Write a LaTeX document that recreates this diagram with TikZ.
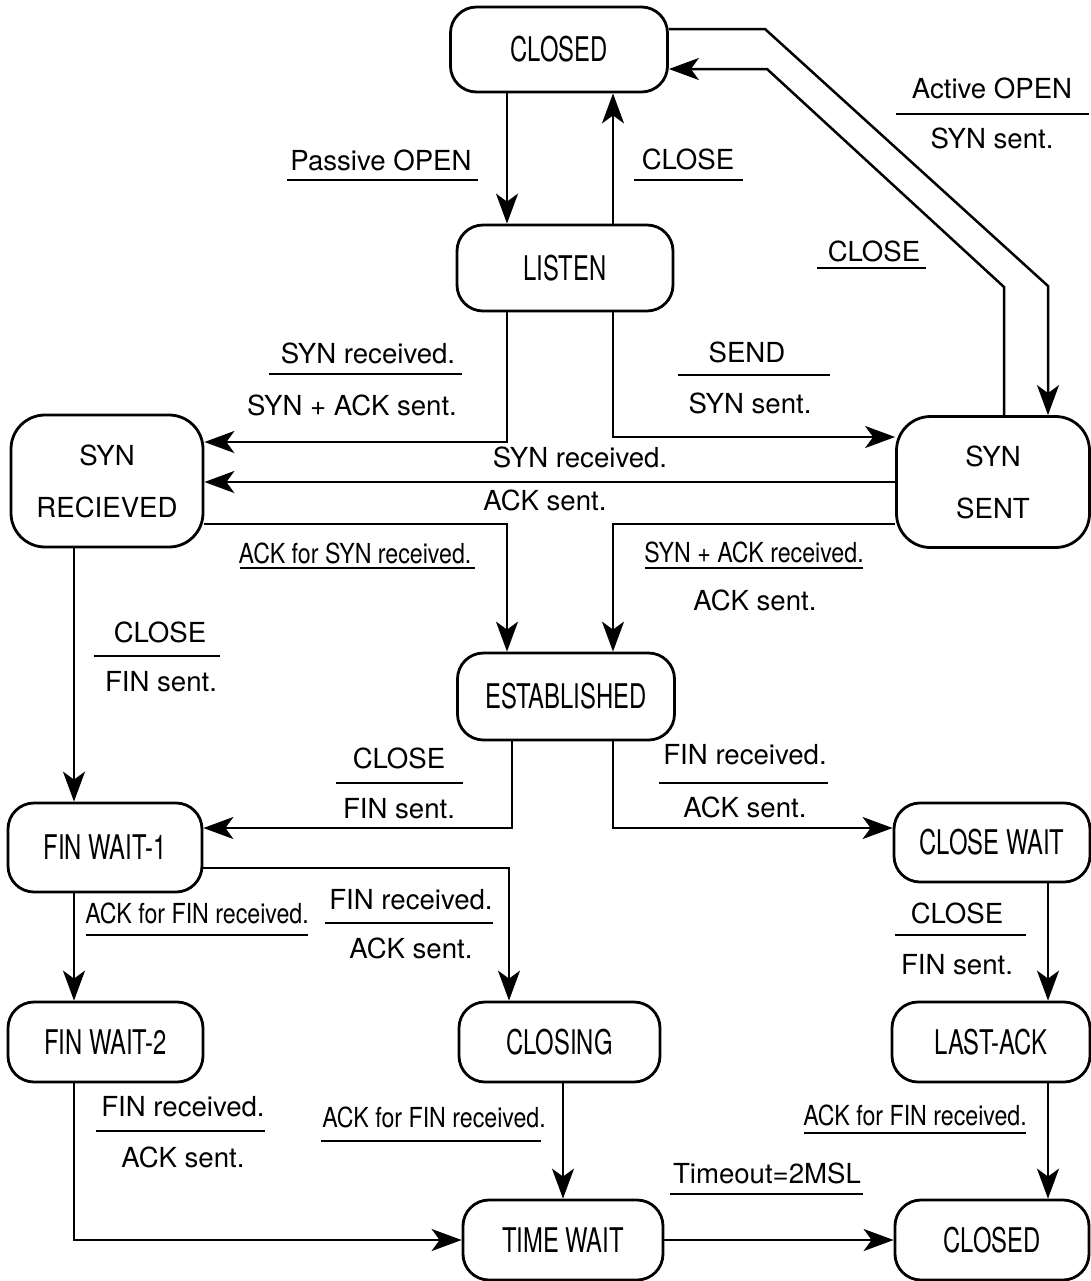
\documentclass[tikz,border=0pt]{standalone}
\usepackage{fontspec}
\setmainfont{TeX Gyre Heros}
\newfontfamily\boxfont[FakeStretch=0.7]{TeX Gyre Heros}
\newfontfamily\condfont[FakeStretch=0.84]{TeX Gyre Heros}
\usetikzlibrary{arrows.meta}
\begin{document}
\begin{tikzpicture}[x=0.5pt,y=-0.5pt,
  state/.style={draw, line width=1.4pt, rounded corners=13pt, inner sep=0pt, font=\boxfont\fontsize{17}{20}\selectfont},
  sstate/.style={state, rounded corners=17pt, align=center, font=\fontsize{13.8}{26}\selectfont},
  lbl/.style={inner sep=0pt, font=\fontsize{13.8}{16}\selectfont},
  clbl/.style={inner sep=0pt, font=\condfont\fontsize{13.8}{16}\selectfont},
  bar/.style={line width=0.7pt},
  tr/.style={line width=1.25pt, -{Stealth[length=15pt,width=11pt,inset=4pt]}},
]
\useasboundingbox (0,0) rectangle (1091,1281);
% states
\node[state, minimum width=108.5pt, minimum height=42.5pt] (C1) at (559,49.5) {CLOSED};
\node[state, minimum width=108pt, minimum height=43pt] (LI) at (565,268) {LISTEN};
\node[sstate, minimum width=96pt, minimum height=66pt] (SR) at (107,481) {SYN\\RECIEVED};
\node[sstate, minimum width=96.5pt, minimum height=65.5pt] (SS) at (993,482) {SYN\\SENT};
\node[state, minimum width=108.5pt, minimum height=43.5pt] (ES) at (566,696.5) {ESTABLISHED};
\node[state, minimum width=97pt, minimum height=44.5pt] (F1) at (105,847.5) {FIN WAIT-1};
\node[state, minimum width=98pt, minimum height=39.5pt] (CW) at (992,842.5) {CLOSE WAIT};
\node[state, minimum width=97.5pt, minimum height=40pt] (F2) at (105.5,1042) {FIN WAIT-2};
\node[state, minimum width=100.5pt, minimum height=40pt] (CG) at (559.5,1042) {CLOSING};
\node[state, minimum width=99pt, minimum height=40pt] (LA) at (991,1042) {LAST-ACK};
\node[state, minimum width=100pt, minimum height=40pt] (TW) at (563,1240) {TIME WAIT};
\node[state, minimum width=97pt, minimum height=40pt] (C2) at (992,1240) {CLOSED};
% columns and rows
\coordinate (xa) at (507,0);
\coordinate (xb) at (613,0);
\coordinate (xe) at (512,0);
\coordinate (xf) at (509,0);
\coordinate (xl) at (74,0);
\coordinate (xr) at (1048,0);
\coordinate (xi) at (1004,0);
\coordinate (xc) at (563,0);
\coordinate (ya) at (0,29);
\coordinate (yb) at (0,69);
\coordinate (yc) at (0,442);
\coordinate (yd) at (0,437);
\coordinate (ye) at (0,482);
\coordinate (yf) at (0,524);
\coordinate (yg) at (0,828);
\coordinate (yh) at (0,868);
% transitions
\draw[tr] (C1.south -| xa) -- (LI.north -| xa);
\draw[tr] (LI.north -| xb) -- (C1.south -| xb);
\draw[tr] (C1.east |- ya) -- (765,29) -- (1048,286) -- (SS.north -| xr);
\draw[tr] (SS.north -| xi) -- (1004,287) -- (767,69) -- (C1.east |- yb);
\draw[tr] (LI.south -| xa) |- (SR.east |- yc);
\draw[tr] (LI.south -| xb) |- (SS.west |- yd);
\draw[tr] (SS.west |- ye) -- (SR.east |- ye);
\draw[tr] (SR.east |- yf) -| (ES.north -| xa);
\draw[tr] (SS.west |- yf) -| (ES.north -| xb);
\draw[tr] (SR.south -| xl) -- (F1.north -| xl);
\draw[tr] (ES.south -| xe) |- (F1.east |- yg);
\draw[tr] (ES.south -| xb) |- (CW.west |- yg);
\draw[tr] (F1.south -| xl) -- (F2.north -| xl);
\draw[tr] (F1.east |- yh) -| (CG.north -| xf);
\draw[tr] (CW.south -| xr) -- (LA.north -| xr);
\draw[tr] (F2.south -| xl) |- (TW.west);
\draw[tr] (CG.south -| xc) -- (TW.north -| xc);
\draw[tr] (LA.south -| xr) -- (C2.north -| xr);
\draw[tr] (TW.east) -- (C2.west);
% labels
\node[lbl] (t1) at (381,160) {Passive OPEN};
\draw[bar] (287,180) -- (478,180);
\node[lbl] (t2) at (688,159) {CLOSE};
\draw[bar] (634,180) -- (743,180);
\node[lbl] (t3) at (992,88) {Active OPEN};
\draw[bar] (896,114) -- (1089,114);
\node[lbl] (t4) at (992,138) {SYN sent.};
\node[lbl] (t5) at (874,251) {CLOSE};
\draw[bar] (817,268) -- (926,268);
\node[lbl] (t6) at (368,353) {SYN received.};
\draw[bar] (269,374) -- (462,374);
\node[lbl] (t7) at (352,405) {SYN + ACK sent.};
\node[lbl] (t8) at (747,352) {SEND};
\draw[bar] (678,375) -- (830,375);
\node[lbl] (t9) at (750,403) {SYN sent.};
\node[lbl] (t10) at (580,457) {SYN received.};
\node[lbl] (t11) at (545,500) {ACK sent.};
\node[clbl] (t12) at (355,553) {ACK for SYN received.};
\draw[bar] (240,568) -- (475,568);
\node[clbl] (t13) at (754,552) {SYN + ACK received.};
\draw[bar] (645,568) -- (863,568);
\node[lbl] (t14) at (755,600) {ACK sent.};
\node[lbl] (t15) at (160,632) {CLOSE};
\draw[bar] (94,656) -- (220,656);
\node[lbl] (t16) at (161,682) {FIN sent.};
\node[lbl] (t17) at (399,758) {CLOSE};
\draw[bar] (336,783) -- (463,783);
\node[lbl] (t18) at (399,809) {FIN sent.};
\node[lbl] (t19) at (745,755) {FIN received.};
\draw[bar] (659,783) -- (828,783);
\node[lbl] (t20) at (745,807) {ACK sent.};
\node[clbl] (t21) at (197,913) {ACK for FIN received.};
\draw[bar] (86,935) -- (308,935);
\node[lbl] (t22) at (411,900) {FIN received.};
\draw[bar] (325,923) -- (493,923);
\node[lbl] (t23) at (411,948) {ACK sent.};
\node[lbl] (t24) at (957,913) {CLOSE};
\draw[bar] (895,935) -- (1026,935);
\node[lbl] (t25) at (957,965) {FIN sent.};
\node[lbl] (t26) at (183,1107) {FIN received.};
\draw[bar] (96,1131) -- (265,1131);
\node[lbl] (t27) at (183,1157) {ACK sent.};
\node[clbl] (t28) at (434,1117) {ACK for FIN received.};
\draw[bar] (321,1141) -- (541,1141);
\node[clbl] (t29) at (915,1115) {ACK for FIN received.};
\draw[bar] (804,1133) -- (1026,1133);
\node[lbl] (t30) at (767,1173) {Timeout=2MSL};
\draw[bar] (670,1194) -- (863,1194);
\end{tikzpicture}
\end{document}
